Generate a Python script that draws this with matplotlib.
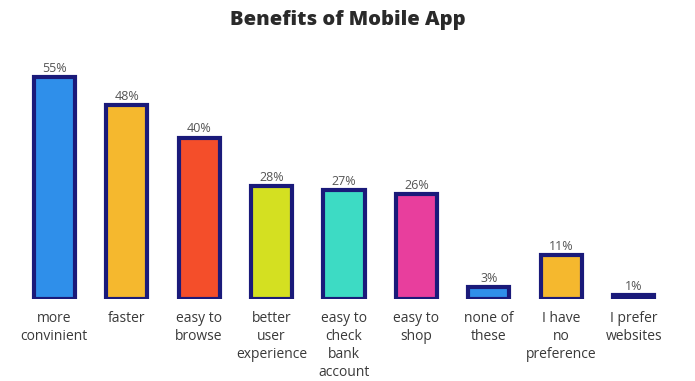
import matplotlib
matplotlib.use("Agg")
import matplotlib.pyplot as plt

categories = ["more\nconvinient", "faster", "easy to\nbrowse", "better\nuser\nexperience",
              "easy to\ncheck\nbank\naccount", "easy to\nshop", "none of\nthese",
              "I have\nno\npreference", "I prefer\nwebsites"]
values = [55, 48, 40, 28, 27, 26, 3, 11, 1]
value_labels = ["55%", "48%", "40%", "28%", "27%", "26%", "3%", "11%", "1%"]
colors = ["#2f8fea", "#f5b82e", "#f44e2a", "#d4e021", "#3ddbc4", "#e83e9d",
          "#2f8fea", "#f5b82e", "#1a1a7a"]

fig = plt.figure(figsize=(6.95, 3.81), dpi=100)
W, H = 695, 381
left, right = 18, 670
base, top = 299, 60
ax = fig.add_axes([left / W, (H - base) / H, (right - left) / W, (base - top) / H])

x = list(range(len(values)))
ax.bar(x, values, width=0.566, color=colors, edgecolor="#1a1a7a", linewidth=3, zorder=2)
px_per = (base - 77) / 55.0
ax.set_ylim(0, (base - top) / px_per)
ax.set_xlim(-0.5, len(values) - 0.5)

for xi, v, lab in zip(x, values, value_labels):
    ax.annotate(lab, (xi, v), xytext=(0, 1.5), textcoords="offset points",
                ha="center", va="bottom", fontsize=9, color="#555555", family="Open Sans")

ax.set_xticks(x)
ax.set_xticklabels(categories, fontsize=10, color="#3a3a3a", family="Open Sans", linespacing=1.25)
ax.tick_params(axis="x", length=0, pad=9)
ax.set_yticks([])
for s in ax.spines.values():
    s.set_visible(False)

fig.text(0.5, 1 - 20 / H, "Benefits of Mobile App", ha="center", va="center",
         fontsize=14.5, fontweight="heavy", color="#2a2a2a", family="Open Sans")

fig.savefig("out.png", dpi=100)
